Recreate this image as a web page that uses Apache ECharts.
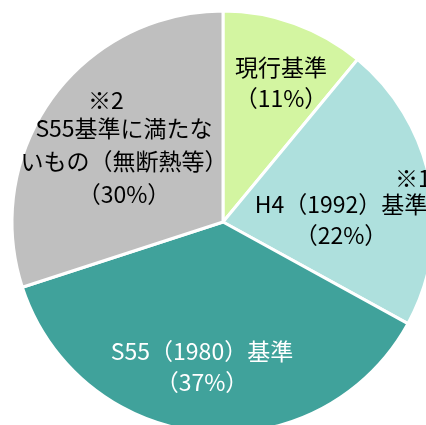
<!DOCTYPE html>
<html>
<head>
<meta charset="utf-8">
<script src="https://cdn.jsdelivr.net/npm/echarts@6/dist/echarts.min.js"></script>
<style>
  html, body { margin: 0; padding: 0; background: #fff; }
  #chart { width: 426px; height: 425px; }
</style>
</head>
<body>
<div id="chart"></div>
<script>
// 住宅ストックの断熱性能 内訳
var categories = ['現行基準', 'H4（1992）基準', 'S55（1980）基準', 'S55基準に満たないもの（無断熱等）'];
var shares = [11, 22, 37, 30];
var notes = ['', '※1', '', '※2'];
var labelText = [['現行基準'], ['H4（1992）基準'], ['S55（1980）基準'], ['S55基準に満たな', 'いもの（無断熱等）']];

var colors = ['#D3F5A1', '#AEE0DD', '#40A29B', '#BFBFBF'];
var textColors = ['#000', '#000', '#fff', '#000'];
// label block centres (px)
var labelPos = [[281, 83], [341, 209], [202, 367], [124, 150]];
// rich style used for the body lines of each label
var lineStyle = ['t', 't', 't', 'g'];

var data = [];
for (var i = 0; i < categories.length; i++) {
	data.push({
		name: categories[i],
		value: shares[i],
		itemStyle: { color: colors[i] },
		label: { color: textColors[i] }
	});
}

function formatLabel(p) {
	var i = p.dataIndex;
	var st = lineStyle[i];
	var s = '';
	if (notes[i] == '※1') {
		s += '{n1|' + notes[i] + '}\n';
	} else if (notes[i] == '※2') {
		s += '{n2|' + notes[i] + '}\n';
	}
	for (var k = 0; k < labelText[i].length; k++) {
		s += '{' + st + '|' + labelText[i][k] + '}\n';
	}
	s += '{' + st + '|（' + p.value + '%）}';
	return s;
}

var chart = echarts.init(document.getElementById('chart'));
var option = {
	animation: false,
	series: [{
		type: 'pie',
		center: [223, 222],
		radius: 211,
		startAngle: 90,
		clockwise: true,
		data: data,
		itemStyle: { borderColor: '#fff', borderWidth: 3 },
		emphasis: { disabled: true },
		labelLine: { show: false },
		label: {
			show: true,
			position: 'inside',
			formatter: formatLabel,
			fontFamily: 'Noto Sans CJK JP',
			fontSize: 23,
			lineHeight: 31,
			align: 'center',
			rich: {
				t: { fontFamily: 'Noto Sans CJK JP', fontSize: 23, lineHeight: 31, align: 'center' },
				g: { fontFamily: 'Noto Sans CJK JP', fontSize: 23, lineHeight: 33, align: 'center' },
				n1: { fontFamily: 'Noto Sans CJK JP', fontSize: 23, lineHeight: 22, align: 'center', padding: [0, 0, 0, 144] },
				n2: { fontFamily: 'Noto Sans CJK JP', fontSize: 23, lineHeight: 22, align: 'center', padding: [0, 36, 0, 0] }
			}
		},
		labelLayout: function (params) {
			var pos = labelPos[params.dataIndex];
			return { x: pos[0], y: pos[1], align: 'center', verticalAlign: 'middle' };
		}
	}]
};
chart.setOption(option);
</script>
</body>
</html>
